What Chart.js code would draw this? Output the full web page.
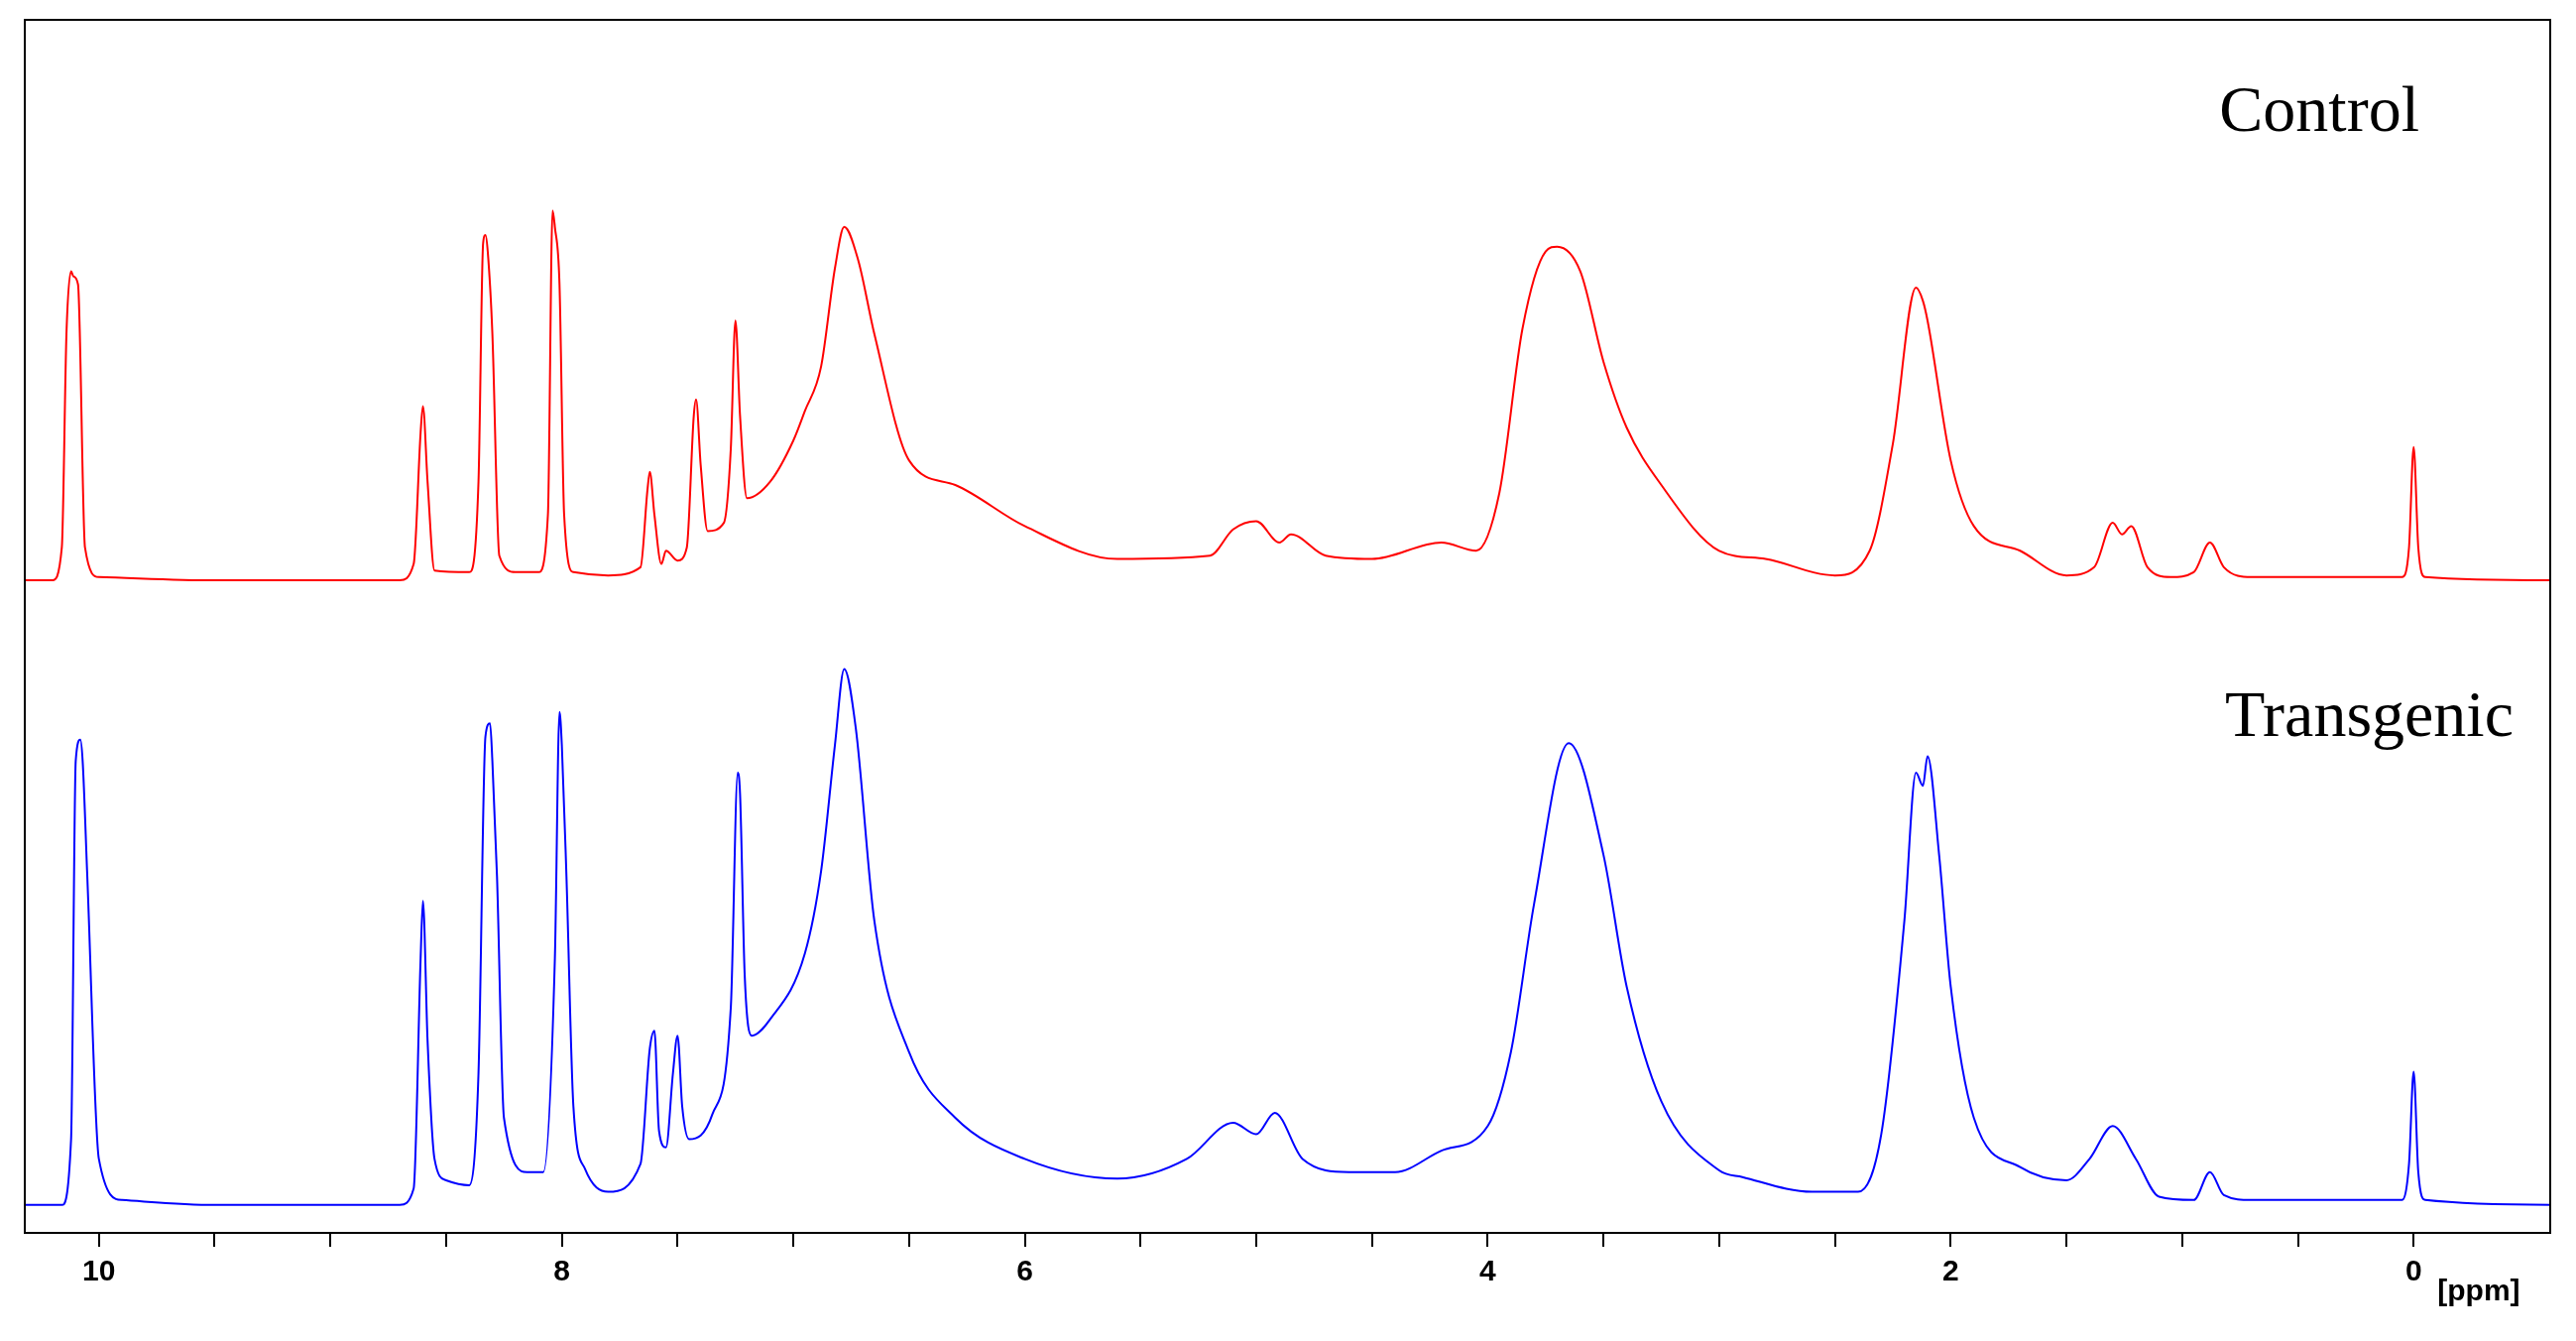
<!DOCTYPE html>
<html>
<head>
<meta charset="utf-8">
<script src="https://cdn.jsdelivr.net/npm/chart.js@4.4.0/dist/chart.umd.min.js"></script>
<style>
  html, body { margin: 0; padding: 0; background: #fff; }
  canvas { display: block; }
</style>
</head>
<body>
<canvas id="nmr" width="2598" height="1352"></canvas>
<script>
// chemical shift (ppm) and peak height (px above each baseline)
const controlPpm = [10.32, 10.2, 10.16, 10.14, 10.12, 10.11, 10.09, 10.06, 10.0, 9.5, 8.7, 8.64, 8.61, 8.6, 8.58, 8.55,
  8.4, 8.36, 8.34, 8.33, 8.32, 8.3, 8.27, 8.2, 8.1, 8.06, 8.04, 8.03, 8.01, 7.99, 7.95, 7.8, 7.66, 7.63, 7.62, 7.6, 7.57,
  7.55, 7.5, 7.46, 7.43, 7.42, 7.4, 7.37, 7.3, 7.27, 7.25, 7.23, 7.2, 7.1, 7.0, 6.95, 6.88, 6.82, 6.78, 6.72, 6.65, 6.5,
  6.3, 6.0, 5.6, 5.2, 5.1, 5.0, 4.9, 4.85, 4.7, 4.5, 4.2, 4.05, 3.95, 3.85, 3.75, 3.7, 3.6, 3.5, 3.4, 3.25, 3.0, 2.8, 2.5,
  2.35, 2.25, 2.15, 2.12, 2.1, 2.0, 1.9, 1.7, 1.5, 1.38, 1.3, 1.26, 1.22, 1.15, 1.05, 0.95, 0.88, 0.82, 0.7, 0.05, 0.02,
  0.0, -0.02, -0.05, -0.59];
const controlInt = [0, 0, 20, 150, 188, 185, 180, 20, 2, 0, 0, 10, 90, 106, 60, 6,
  5, 60, 205, 210, 200, 150, 15, 5, 5, 40, 225, 215, 180, 40, 5, 3, 8, 55, 66, 40, 10,
  18, 12, 20, 100, 110, 70, 30, 35, 80, 158, 100, 50, 60, 85, 103, 130, 190, 215, 195, 150, 73,
  58, 33, 13, 15, 31, 36, 23, 28, 15, 13, 23, 18, 53, 153, 200, 203, 188, 133, 93, 58, 18, 13, 3,
  18, 83, 178, 170, 158, 73, 33, 18, 3, 8, 35, 28, 33, 8, 2, 5, 23, 8, 2, 2, 20,
  81, 20, 2, 0];

const transgenicPpm = [10.32, 10.16, 10.12, 10.1, 10.08, 10.07, 10.05, 10.0, 9.9, 9.5, 8.7, 8.64, 8.61, 8.6, 8.58, 8.55,
  8.5, 8.4, 8.36, 8.33, 8.31, 8.3, 8.28, 8.25, 8.15, 8.08, 8.03, 8.01, 8.0, 7.98, 7.95, 7.9, 7.8, 7.66, 7.62, 7.6, 7.58,
  7.55, 7.52, 7.5, 7.48, 7.45, 7.35, 7.27, 7.24, 7.23, 7.21, 7.18, 7.1, 6.95, 6.88, 6.82, 6.78, 6.73, 6.65, 6.5,
  6.3, 6.0, 5.6, 5.3, 5.1, 5.0, 4.92, 4.8, 4.6, 4.4, 4.2, 4.0, 3.9, 3.8, 3.65, 3.5, 3.4, 3.25, 3.0, 2.9, 2.6, 2.4,
  2.3, 2.2, 2.15, 2.12, 2.1, 2.05, 2.0, 1.9, 1.7, 1.5, 1.4, 1.3, 1.2, 1.1, 0.95, 0.88, 0.82, 0.7, 0.05, 0.02,
  0.0, -0.02, -0.05, -0.59];
const transgenicInt = [0, 0, 40, 270, 283, 270, 200, 28, 3, 0, 0, 10, 150, 185, 100, 28,
  15, 12, 80, 285, 293, 270, 200, 53, 20, 20, 150, 300, 280, 200, 60, 22, 8, 25, 95, 106, 45,
  35, 80, 103, 60, 40, 55, 120, 263, 250, 140, 103, 113, 153, 203, 280, 326, 290, 173, 93,
  53, 28, 16, 28, 50, 43, 56, 28, 20, 20, 33, 48, 93, 183, 281, 213, 133, 63, 21, 17, 8, 8,
  43, 173, 263, 255, 273, 213, 133, 53, 23, 15, 28, 48, 28, 5, 3, 20, 6, 3, 3, 25,
  81, 20, 3, 0];

const xTicks = [10, 8, 6, 4, 2, 0];
const controlOffset = 380;

function toPoints(ppm, ints, offset) {
  return ppm.map((p, i) => ({ x: p, y: ints[i] + offset })).sort((a, b) => a.x - b.x);
}

const framePlugin = {
  id: 'frame',
  afterDraw(chart) {
    const { ctx, chartArea: a } = chart;
    ctx.save();
    ctx.strokeStyle = '#000';
    ctx.lineWidth = 2;
    ctx.strokeRect(a.left, a.top, a.right - a.left, a.bottom - a.top);
    ctx.fillStyle = '#000';
    ctx.font = '66px "Liberation Serif", "Times New Roman", serif';
    ctx.textAlign = 'right';
    ctx.fillText('Control', a.left + 2415, a.top + 112);
    ctx.fillText('Transgenic', a.left + 2510, a.top + 722);
    const x0 = chart.scales.x.getPixelForValue(0);
    ctx.font = 'bold 30px "Liberation Sans", Arial, sans-serif';
    ctx.textAlign = 'left';
    ctx.fillText('[ppm]', x0 + 24, a.bottom + 68);
    ctx.restore();
  }
};

new Chart(document.getElementById('nmr'), {
  type: 'scatter',
  data: {
    datasets: [
      { label: 'Control', data: toPoints(controlPpm, controlInt, controlOffset), borderColor: '#ff0000' },
      { label: 'Transgenic', data: toPoints(transgenicPpm, transgenicInt, 0), borderColor: '#0000ff' }
    ].map(d => Object.assign(d, { showLine: true, pointRadius: 0, borderWidth: 2, cubicInterpolationMode: 'monotone' }))
  },
  options: {
    responsive: false,
    animation: false,
    devicePixelRatio: 1,
    layout: { padding: { left: 25, right: 26, top: 20, bottom: 43 } },
    plugins: { legend: { display: false }, tooltip: { enabled: false } },
    scales: {
      x: {
        type: 'linear', reverse: true, min: -0.59, max: 10.32,
        afterBuildTicks: s => { s.ticks = []; for (let v = 0; v <= 10; v += 0.5) s.ticks.push({ value: v }); },
        ticks: {
          autoSkip: false, maxRotation: 0, color: '#000', padding: 8,
          font: { family: '"Liberation Sans", Arial, sans-serif', size: 30, weight: 'bold' },
          callback: v => xTicks.includes(v) ? String(v) : ''
        },
        grid: { drawOnChartArea: false, drawTicks: true, tickLength: 14, color: '#000', lineWidth: 2 },
        border: { display: false }
      },
      y: { display: false, min: -17, max: 721 }
    }
  },
  plugins: [framePlugin]
});
</script>
</body>
</html>
